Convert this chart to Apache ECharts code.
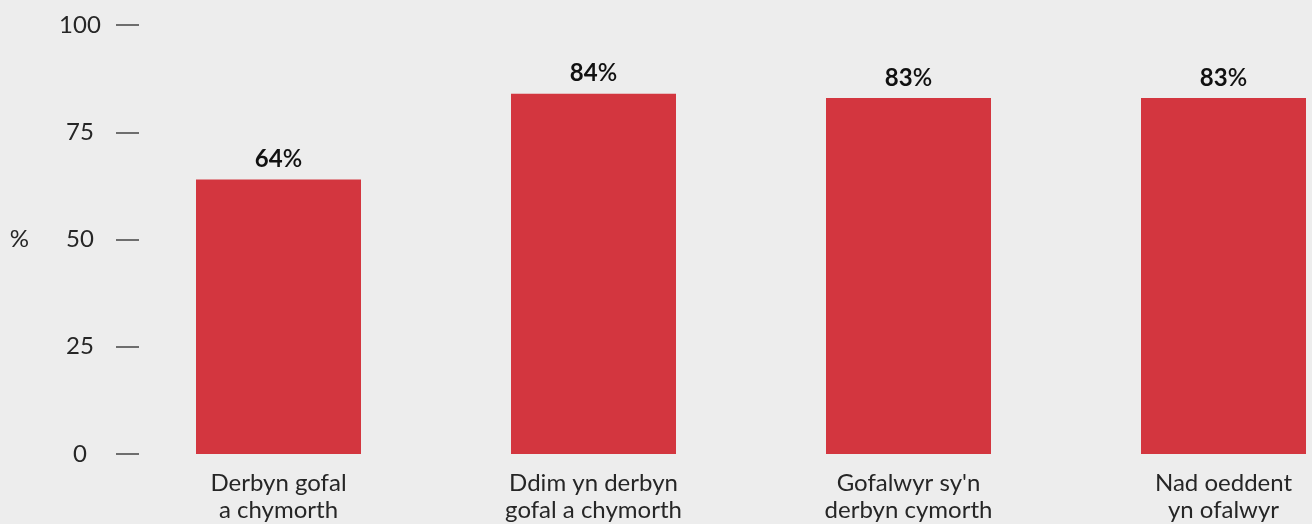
<!DOCTYPE html>
<html>
<head>
<meta charset="utf-8">
<script src="https://cdn.jsdelivr.net/npm/echarts@6/dist/echarts.min.js"></script>
<style>
html,body{margin:0;padding:0;background:#ededed;overflow:hidden;width:1312px;height:524px;}
#chart{width:1381px;height:524px;}
</style>
</head>
<body>
<div id="chart"></div>
<script>
const categories = ["Derbyn gofal\na chymorth", "Ddim yn derbyn\ngofal a chymorth", "Gofalwyr sy'n\nderbyn cymorth", "Nad oeddent\nyn ofalwyr"];
const values = [64, 84, 83, 83];
const yTicks = [0, 25, 50, 75, 100];

const FONT = 'Lato, "Open Sans", sans-serif';
const chart = echarts.init(document.getElementById('chart'));
chart.setOption({
  backgroundColor: '#ededed',
  animation: false,
  grid: { left: 121, right: 0, top: 25, bottom: 70, containLabel: false },
  xAxis: {
    type: 'category',
    data: categories,
    axisLine: { show: false },
    axisTick: { show: false },
    axisLabel: {
      color: '#262626',
      fontFamily: FONT,
      fontWeight: 400,
      fontSize: 24,
      lineHeight: 27,
      margin: 16,
      interval: 0
    }
  },
  yAxis: {
    type: 'value',
    min: yTicks[0],
    max: yTicks[yTicks.length - 1],
    interval: 25,
    offset: -18,
    splitLine: { show: false },
    axisLine: { show: false },
    axisTick: { show: true, length: 23, lineStyle: { color: '#444', width: 1.5 } },
    axisLabel: {
      color: '#262626',
      fontFamily: FONT,
      fontWeight: 400,
      fontSize: 24,
      align: 'center',
      margin: 59
    },
    name: '%',
    nameLocation: 'middle',
    nameRotate: 0,
    nameGap: 110,
    nameTextStyle: { color: '#262626', fontFamily: FONT, fontWeight: 400, fontSize: 24 }
  },
  series: [{
    type: 'bar',
    data: values,
    barWidth: 165,
    itemStyle: { color: '#d3363f' },
    label: {
      show: true,
      position: 'top',
      distance: 8,
      formatter: p => '{b|' + p.value + '}{n|%}',
      rich: {
        b: { fontFamily: FONT, fontSize: 24, fontWeight: 'bold', color: '#111' },
        n: { fontFamily: FONT, fontSize: 24, fontWeight: 600, color: '#111' }
      }
    }
  }]
});
</script>
</body>
</html>
